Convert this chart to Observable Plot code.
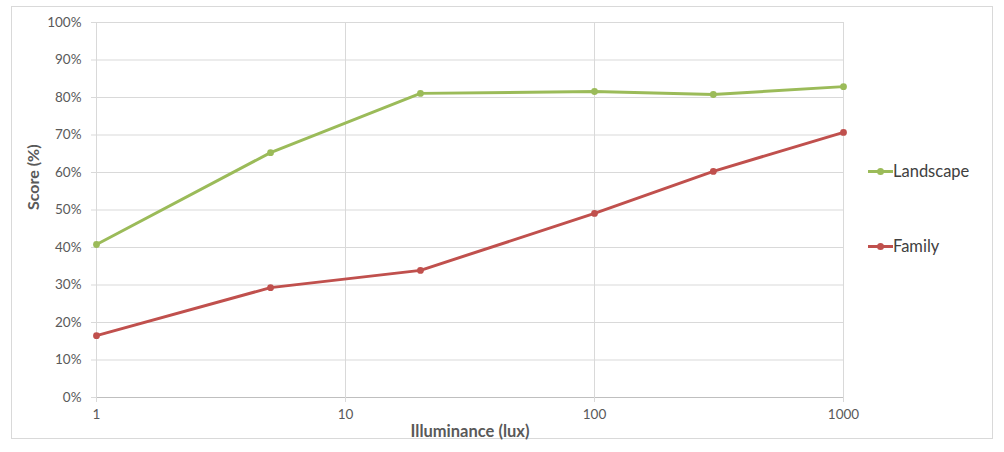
<!DOCTYPE html>
<html>
<head>
<meta charset="utf-8">
<script src="https://cdn.jsdelivr.net/npm/d3@7"></script>
<script src="https://cdn.jsdelivr.net/npm/@observablehq/plot@0.6"></script>
<style>
  body { margin: 0; background: #fff; font-family: Lato, "Open Sans", sans-serif; }
  #wrap { position: relative; width: 1004px; height: 452px; }
  #frame { position: absolute; left: 11px; top: 6px; width: 982px; height: 433px; border: 1px solid #d9d9d9; box-sizing: border-box; }
  #chart { position: absolute; left: 0; top: 0; }
  .leg { position: absolute; left: 868px; font-size: 16.5px; color: #404040; display: flex; align-items: center; }
  .leg .sw { position: relative; width: 25px; height: 3px; margin-right: 0px; }
  .leg .sw i { position: absolute; left: 9px; top: -2px; width: 7px; height: 7px; border-radius: 50%; }
</style>
</head>
<body>
<div id="wrap">
  <div id="frame"></div>
  <div id="chart"></div>
</div>
<script>
const lux = [1, 5, 20, 100, 300, 1000];
const landscape = [40.8, 65.3, 81.1, 81.6, 80.8, 82.9];
const family = [16.5, 29.3, 33.9, 49.1, 60.3, 70.7];
const seriesNames = ["Landscape", "Family"];
const seriesColors = ["#9bbb59", "#c0504d"];
const xTicks = [1, 10, 100, 1000];
const yTicks = [0, 10, 20, 30, 40, 50, 60, 70, 80, 90, 100];

const rows = [];
lux.forEach((x, i) => {
  rows.push({series: "Landscape", x, y: landscape[i]});
  rows.push({series: "Family", x, y: family[i]});
});

const chart = Plot.plot({
  width: 1004,
  height: 452,
  marginLeft: 96,
  marginRight: 161,
  marginTop: 22,
  marginBottom: 55,
  style: {fontFamily: "Lato, 'Open Sans', sans-serif", fontSize: "13.5px", color: "#595959", background: "transparent"},
  x: {type: "log", domain: [1, 1000], ticks: xTicks, tickFormat: d => String(d), label: null},
  y: {domain: [0, 100], ticks: yTicks, tickFormat: d => d + "%", label: null},
  color: {domain: seriesNames, range: seriesColors},
  marks: [
    Plot.gridY(yTicks.filter(d => d > 0), {stroke: "#d9d9d9", strokeOpacity: 1}),
    Plot.gridX(xTicks, {stroke: "#d9d9d9", strokeOpacity: 1}),
    Plot.ruleY([0], {stroke: "#bfbfbf", strokeWidth: 1}),
    Plot.axisY({ticks: yTicks, tickSize: 5, tickPadding: 10, stroke: "#d9d9d9", tickFormat: d => d + "%", label: null, fontSize: 13.5}),
    Plot.axisX({ticks: xTicks, tickSize: 5, tickPadding: 7, stroke: "#d9d9d9", tickFormat: d => String(d), label: null, fontSize: 13.5}),
    Plot.line(rows, {x: "x", y: "y", stroke: "series", z: "series", strokeWidth: 3}),
    Plot.dot(rows, {x: "x", y: "y", fill: "series", r: 3.4}),
    Plot.text(["Illuminance (lux)"], {frameAnchor: "bottom", dy: 39, fontWeight: "bold", fontSize: 16.5, fill: "#595959"}),
    Plot.text(["Score (%)"], {frameAnchor: "left", dx: -63, rotate: -90, fontWeight: "bold", fontSize: 16, fill: "#595959"})
  ]
});
document.getElementById("chart").appendChild(chart);

const legendTops = [161, 236];
seriesNames.forEach((name, i) => {
  const d = document.createElement("div");
  d.className = "leg";
  d.style.top = legendTops[i] + "px";
  d.innerHTML = `<span class="sw" style="background:${seriesColors[i]}"><i style="background:${seriesColors[i]}"></i></span>${name}`;
  document.getElementById("wrap").appendChild(d);
});
</script>
</body>
</html>
